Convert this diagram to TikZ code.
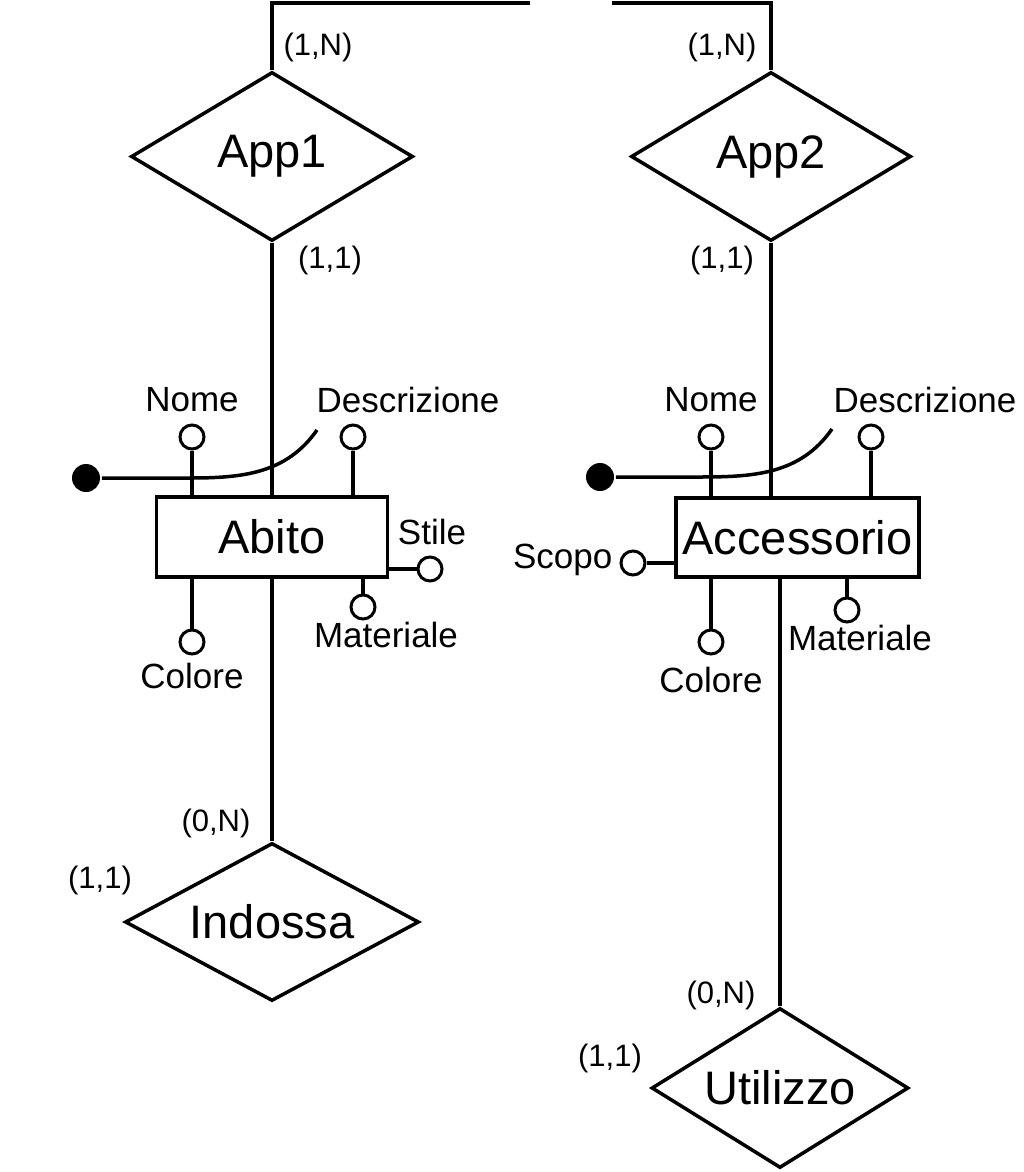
\documentclass[tikz,border=0pt]{standalone}
\usepackage{fontspec}
\setmainfont{Liberation Sans}
\usetikzlibrary{shapes.geometric}

\begin{document}
\begin{tikzpicture}[x=1pt, y=-1pt, line width=3.5pt,
    entity/.style={draw, rectangle, inner sep=0pt, font=\fontsize{47}{56}\selectfont},
    relation/.style={draw, diamond, inner sep=0pt, aspect=1.7, font=\fontsize{47}{56}\selectfont},
    attr/.style={draw, circle, fill=white, line width=3pt, inner sep=0pt, minimum size=24pt},
    keydot/.style={circle, fill=black, inner sep=0pt, minimum size=28pt},
    attrname/.style={inner sep=0pt, font=\fontsize{35}{42}\selectfont},
    card/.style={inner sep=0pt, font=\fontsize{31}{37}\selectfont}]
    \useasboundingbox (0,0) rectangle (1024,1172);

    % Entities
    \node[entity, minimum width=231pt, minimum height=80pt] (abito) at (272,537) {Abito};
    \node[entity, minimum width=243pt, minimum height=79pt] (accessorio) at (797.5,537.5) {Accessorio};

    % Relationships
    \node[relation, minimum width=282pt, minimum height=169pt] (app1) at (272,156.5) {App1};
    \node[relation, minimum width=280pt, minimum height=169pt] (app2) at (771,156.5) {App2};
    \node[relation, minimum width=294pt, minimum height=158pt] (indossa) at (272,922) {Indossa};
    \node[relation, minimum width=257pt, minimum height=160pt] (utilizzo) at (780,1088) {Utilizzo};

    % Open ends at the top
    \coordinate (top1) at (530,3);
    \coordinate (top2) at (612,3);
    \draw (app1.north) |- (top1);
    \draw (app2.north) |- (top2);

    % Links between relationships and entities
    \draw (app1.south) -- (abito.north);
    \draw (abito.south) -- (indossa.north);
    \draw (app2.south) -- (app2.south |- accessorio.north);
    \draw (utilizzo.north) -- (utilizzo.north |- accessorio.south);

    % Cardinalities
    \node[card] (c-app1-top) at (318,47) {(1,N)};
    \node[card] (c-app2-top) at (722,47) {(1,N)};
    \node[card] (c-app1-bot) at (330,260) {(1,1)};
    \node[card] (c-app2-bot) at (722,260) {(1,1)};
    \node[card] (c-indossa-top) at (216,823) {(0,N)};
    \node[card] (c-indossa-left) at (100,880) {(1,1)};
    \node[card] (c-utilizzo-top) at (721,995) {(0,N)};
    \node[card] (c-utilizzo-left) at (610,1058) {(1,1)};

    % Attributes of Abito
    \node[attr] (ab-nome) at (192,437) {};
    \node[attr] (ab-descr) at (353,437) {};
    \node[attr] (ab-stile) at (430,569) {};
    \node[attr] (ab-mat) at (363,607) {};
    \node[attr] (ab-col) at (192,642) {};
    \draw (ab-nome) -- (ab-nome |- abito.north);
    \draw (ab-descr) -- (ab-descr |- abito.north);
    \draw (ab-stile) -- (ab-stile -| abito.east);
    \draw (ab-mat) -- (ab-mat |- abito.south);
    \draw (ab-col) -- (ab-col |- abito.south);
    \node[attrname] (ab-nome-t) at (192,400) {Nome};
    \node[attrname] (ab-descr-t) at (408,400) {Descrizione};
    \node[attrname] (ab-stile-t) at (432,532) {Stile};
    \node[attrname] (ab-mat-t) at (386,635) {Materiale};
    \node[attrname] (ab-col-t) at (192,676) {Colore};

    % Identifier of Abito
    \node[keydot] (ab-key) at (86,478) {};
    \coordinate (ab-bend) at (190,478);
    \coordinate (ab-keyend) at (317,430);
    \draw (ab-key) -- (ab-bend) to[out=0, in=-125] (ab-keyend);

    % Attributes of Accessorio
    \node[attr] (ac-nome) at (711,437) {};
    \node[attr] (ac-descr) at (871,437) {};
    \node[attr] (ac-scopo) at (633,563) {};
    \node[attr] (ac-mat) at (847,610) {};
    \node[attr] (ac-col) at (711,642) {};
    \draw (ac-nome) -- (ac-nome |- accessorio.north);
    \draw (ac-descr) -- (ac-descr |- accessorio.north);
    \draw (ac-scopo) -- (ac-scopo -| accessorio.west);
    \draw (ac-mat) -- (ac-mat |- accessorio.south);
    \draw (ac-col) -- (ac-col |- accessorio.south);
    \node[attrname] (ac-nome-t) at (711,400) {Nome};
    \node[attrname] (ac-descr-t) at (925,400) {Descrizione};
    \node[attrname, anchor=east] (ac-scopo-t) at (614,560) {Scopo};
    \node[attrname] (ac-mat-t) at (860,638) {Materiale};
    \node[attrname] (ac-col-t) at (711,680) {Colore};

    % Identifier of Accessorio
    \node[keydot] (ac-key) at (600,477) {};
    \coordinate (ac-bend) at (700,477);
    \coordinate (ac-keyend) at (832,429);
    \draw (ac-key) -- (ac-bend) to[out=0, in=-125] (ac-keyend);

\end{tikzpicture}
\end{document}
